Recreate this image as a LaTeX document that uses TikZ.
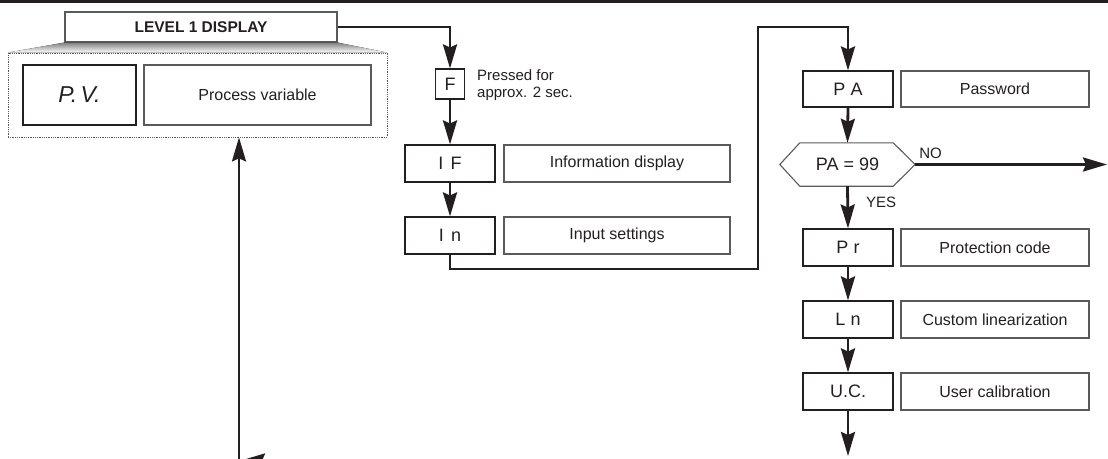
\documentclass[tikz,border=0pt]{standalone}
\usepackage{fontspec}
\setmainfont{Liberation Sans}
\usetikzlibrary{arrows.meta,calc}
\definecolor{ink}{HTML}{231F20}
\definecolor{edge}{HTML}{5A5A5A}
\definecolor{shade}{HTML}{BDBEC0}
\begin{document}
\begin{tikzpicture}[x=1pt,y=-1pt,
  code/.style={draw=ink, line width=1.1pt, inner sep=0pt, minimum width=90pt, minimum height=37pt, font=\fontsize{18}{20}\selectfont, text=ink},
  desc/.style={draw=edge, line width=1.1pt, inner sep=0pt, minimum height=37pt, font=\fontsize{16}{18}\selectfont, text=ink},
  flow/.style={draw=ink, line width=2.8pt, -{Stealth[length=24pt,width=14pt,inset=3pt]}},
  lbl/.style={font=\fontsize{15}{17}\selectfont, text=ink, inner sep=0pt}]
\useasboundingbox (0,0) rectangle (1108,458);
\clip (0,0) rectangle (1108,458);
\fill[ink] (0,0) rectangle (1108,3);
% level 1 display group
\node[draw=edge, densely dotted, line width=0.8pt, minimum width=379pt, minimum height=84pt, inner sep=0pt] (disp) at (197.5,95) {};
\node[code, draw=edge, minimum width=272pt, minimum height=30pt, font=\bfseries\fontsize{15.5}{18}\selectfont] (lvl) at (201,27) {LEVEL 1 DISPLAY};
\fill[shade] (lvl.south west) -- (lvl.south east) -- (disp.north east) -- (disp.north west) -- cycle;
\node[code, minimum width=113pt, minimum height=60pt, font=\itshape\fontsize{23}{25}\selectfont] (pv) at (79.5,95) {P.\hspace{0.15em}V.};
\node[desc, minimum width=227pt, minimum height=60pt] (pvd) at (257.5,95) {Process variable};
% middle column
\node[code, minimum width=29pt, minimum height=30pt] (F) at (450,84) {F};
\node[lbl, anchor=north west, align=left] (press) at (477,69) {Pressed for\\approx. 2 sec.};
\node[code] (IF) at (450,163.5) {I\hspace{0.4em}F};
\node[desc, minimum width=226pt] (IFd) at (617,163.5) {Information display};
\node[code] (In) at (450,235.5) {I\hspace{0.4em}n};
\node[desc, minimum width=226pt] (Ind) at (617,235.5) {Input settings};
% right column
\node[code, minimum height=36pt] (PA) at (848,89) {P\hspace{0.3em}A};
\node[desc, minimum width=188pt, minimum height=36pt] (PAd) at (995,89) {Password};
\node[minimum width=135pt, minimum height=43pt, inner sep=0pt, font=\fontsize{18}{20}\selectfont, text=ink] (hex) at (847.5,164.5) {PA = 99};
\draw[edge, line width=1.1pt] (hex.west) -- ([xshift=20pt]hex.north west) -- ([xshift=-22pt]hex.north east) -- (hex.east) -- ([xshift=-22pt]hex.south east) -- ([xshift=20pt]hex.south west) -- cycle;
\node[lbl, anchor=south west] (no) at ([xshift=4pt,yshift=6pt]hex.east) {NO};
\node[lbl, anchor=west] (yes) at (866,202) {YES};
\node[code] (Pr) at (848,247.5) {P\hspace{0.3em}r};
\node[desc, minimum width=188pt] (Prd) at (995,247.5) {Protection code};
\node[code] (Ln) at (848,319.5) {L\hspace{0.3em}n};
\node[desc, minimum width=188pt] (Lnd) at (995,319.5) {Custom linearization};
\node[code] (UC) at (848,391.5) {U.C.};
\node[desc, minimum width=188pt] (UCd) at (995,391.5) {User calibration};
% coordinates
\coordinate (c1) at (758,269);
\coordinate (c2) at (758,27);
\coordinate (noend) at (1107,164.5);
\coordinate (ucend) at (848,456);
\coordinate (loopbot) at (239,470);
\coordinate (frag) at (520,460.5);
\coordinate (fragtip) at (241,460.5);
% connectors
\draw[flow] (lvl.east) -| (F.north);
\draw[flow] (F.south) -- (IF.north);
\draw[flow] (IF.south) -- (In.north);
\draw[flow] (In.south) |- (c1) -- (c2) -| (PA.north);
\draw[flow] (PA.south) -- (hex.north);
\draw[flow] (hex.east) -- (noend);
\draw[flow] (hex.south) -- (Pr.north);
\draw[flow] (Pr.south) -- (Ln.north);
\draw[flow] (Ln.south) -- (UC.north);
\draw[flow] (UC.south) -- (ucend);
\draw[flow, line width=2.2pt] (loopbot) -- (loopbot |- disp.south);
\draw[flow] (frag) -- (fragtip);
\end{tikzpicture}
\end{document}
